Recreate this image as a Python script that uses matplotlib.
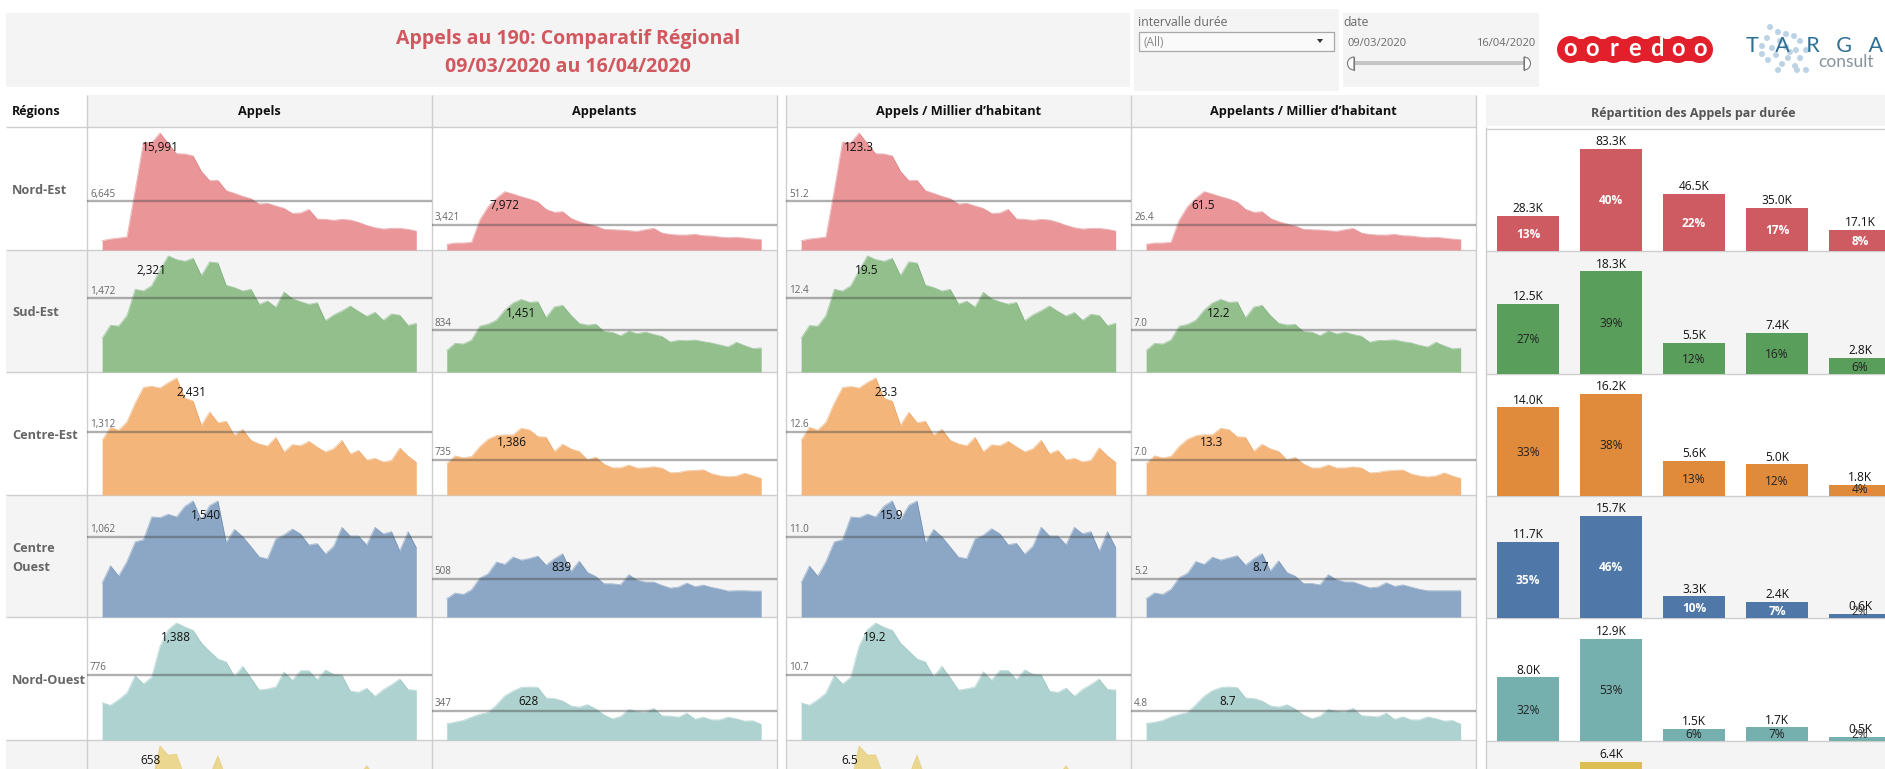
import matplotlib
matplotlib.use("Agg")
import matplotlib.pyplot as plt
from matplotlib.patches import Rectangle, Circle, Polygon, Wedge

nan = float("nan")
W, H = 1885, 769
plt.rcParams["font.family"] = ["Open Sans", "DejaVu Sans"]

# ---------- values (39 days, 09/03/2020 to 16/04/2020) ----------
appels_nord_est = [1276,1503,1640,1777,8155,14761,14670,15991,14534,13167,13121,12848,10752,9476,9522,8110,7745,7335,7016,6287,6378,6014,5695,5012,5057,5558,4237,4192,4055,4192,4100,3781,3371,3053,2870,2961,2961,2825,2597]
appels_sud_est = [674,934,920,1127,1654,1621,1728,2041,2321,2248,2214,2274,1928,2201,2181,1734,1688,1621,1654,1354,1421,1294,1601,1467,1407,1354,1387,1027,1141,1221,1321,1214,1114,1194,1034,1161,1134,934,974]
appels_centre_est = [1136,1406,1344,1517,1912,2237,2258,2223,2334,2431,2015,1953,1448,1725,1503,1531,1240,1364,1136,1060,1018,1198,893,1046,1025,1115,997,893,963,1136,852,928,727,762,686,720,977,810,679]
appels_centre_ouest = [451,681,544,735,996,1027,1328,1319,1363,1328,1469,1540,1288,1478,1540,991,1164,1066,934,797,770,1035,1089,1168,1102,956,974,836,938,1190,1075,1075,956,1190,1102,1133,876,1133,920]
appels_nord_ouest = [443,411,478,558,763,664,747,1111,1309,1388,1340,1301,1151,1052,961,925,755,874,735,593,605,629,807,708,822,822,716,830,779,771,581,565,613,518,597,656,724,597,589]
# Last row: only the points above the bottom edge of the picture can be read.
appels_ligne6 = [nan,nan,nan,nan,nan,nan,443,658,607,612,483,nan,nan,487,603,480,nan,nan,nan,nan,nan,nan,nan,nan,nan,nan,nan,nan,nan,nan,nan,483,547,490,nan,nan,nan,nan,nan]

appelants_nord_est = [775,957,957,1048,4100,5923,7062,7972,7654,7290,6971,6561,5558,5148,5239,4328,3873,3554,3280,2825,2779,2734,2642,2551,2779,2961,2324,2141,2050,2050,2141,1959,1914,1777,1686,1731,1640,1503,1412]
appelants_sud_est = [429,574,561,640,917,957,1036,1234,1379,1451,1393,1406,1089,1300,1333,1135,970,937,957,812,792,726,818,766,799,752,713,601,634,627,640,607,581,541,502,594,528,469,482]
appelants_centre_est = [649,814,773,800,1007,1159,1235,1249,1249,1386,1352,1214,1201,904,1056,959,904,731,787,642,566,566,621,559,566,587,559,462,469,504,511,524,442,400,380,393,455,400,345]
appelants_centre_ouest = [243,318,300,362,517,574,729,698,795,755,777,808,689,773,839,605,742,592,539,442,442,428,561,490,464,464,420,384,397,450,402,424,393,371,344,349,349,344,344]
appelants_nord_ouest = [192,212,232,271,306,326,416,522,581,624,628,624,498,491,463,404,389,420,369,298,251,279,361,338,330,377,287,283,271,318,247,271,239,239,271,251,224,228,184]

appels_hab_nord_est = [9.8,11.6,12.6,13.7,62.9,113.8,113.1,123.3,112.1,101.5,101.2,99.1,82.9,73.1,73.4,62.5,59.7,56.6,54.1,48.5,49.2,46.4,43.9,38.6,39.0,42.9,32.7,32.3,31.3,32.3,31.6,29.2,26.0,23.5,22.1,22.8,22.8,21.8,20.0]
appels_hab_sud_est = [5.7,7.8,7.7,9.5,13.9,13.6,14.5,17.1,19.5,18.9,18.6,19.1,16.2,18.5,18.3,14.6,14.2,13.6,13.9,11.4,11.9,10.9,13.4,12.3,11.8,11.4,11.7,8.6,9.6,10.3,11.1,10.2,9.4,10.0,8.7,9.7,9.5,7.8,8.2]
appels_hab_centre_est = [10.9,13.5,12.9,14.5,18.3,21.4,21.6,21.3,22.4,23.3,19.3,18.7,13.9,16.5,14.4,14.7,11.9,13.1,10.9,10.2,9.8,11.5,8.6,10.0,9.8,10.7,9.6,8.6,9.2,10.9,8.2,8.9,7.0,7.3,6.6,6.9,9.4,7.8,6.5]
appels_hab_centre_ouest = [4.7,7.0,5.6,7.6,10.3,10.6,13.7,13.6,14.1,13.7,15.2,15.9,13.3,15.3,15.9,10.2,12.0,11.0,9.6,8.2,8.0,10.7,11.2,12.1,11.4,9.9,10.1,8.6,9.7,12.3,11.1,11.1,9.9,12.3,11.4,11.7,9.0,11.7,9.5]
appels_hab_nord_ouest = [6.1,5.7,6.6,7.7,10.6,9.2,10.3,15.4,18.1,19.2,18.5,18.0,15.9,14.6,13.3,12.8,10.4,12.1,10.2,8.2,8.4,8.7,11.2,9.8,11.4,11.4,9.9,11.5,10.8,10.7,8.0,7.8,8.5,7.2,8.3,9.1,10.0,8.3,8.2]
appels_hab_ligne6 = [nan,nan,nan,nan,nan,nan,4.4,6.5,6.0,6.0,4.8,nan,nan,4.8,6.0,4.7,nan,nan,nan,nan,nan,nan,nan,nan,nan,nan,nan,nan,nan,nan,nan,4.8,5.4,4.8,nan,nan,nan,nan,nan]

appelants_hab_nord_est = [6.0,7.4,7.4,8.1,31.6,45.7,54.5,61.5,59.0,56.2,53.8,50.6,42.9,39.7,40.4,33.4,29.9,27.4,25.3,21.8,21.4,21.1,20.4,19.7,21.4,22.8,17.9,16.5,15.8,15.8,16.5,15.1,14.8,13.7,13.0,13.4,12.6,11.6,10.9]
appelants_hab_sud_est = [3.6,4.8,4.7,5.4,7.7,8.0,8.7,10.4,11.6,12.2,11.7,11.8,9.1,10.9,11.2,9.5,8.2,7.9,8.0,6.8,6.7,6.1,6.9,6.4,6.7,6.3,6.0,5.0,5.3,5.3,5.4,5.1,4.9,4.5,4.2,5.0,4.4,3.9,4.0]
appelants_hab_centre_est = [6.2,7.8,7.4,7.7,9.7,11.1,11.8,12.0,12.0,13.3,13.0,11.6,11.5,8.7,10.1,9.2,8.7,7.0,7.5,6.2,5.4,5.4,6.0,5.4,5.4,5.6,5.4,4.4,4.5,4.8,4.9,5.0,4.2,3.8,3.6,3.8,4.4,3.8,3.3]
appelants_hab_centre_ouest = [2.5,3.3,3.1,3.8,5.4,6.0,7.6,7.2,8.2,7.8,8.1,8.4,7.1,8.0,8.7,6.3,7.7,6.1,5.6,4.6,4.6,4.4,5.8,5.1,4.8,4.8,4.4,4.0,4.1,4.7,4.2,4.4,4.1,3.8,3.6,3.6,3.6,3.6,3.6]
appelants_hab_nord_ouest = [2.7,2.9,3.2,3.8,4.2,4.5,5.8,7.2,8.1,8.6,8.7,8.6,6.9,6.8,6.4,5.6,5.4,5.8,5.1,4.1,3.5,3.9,5.0,4.7,4.6,5.2,4.0,3.9,3.8,4.4,3.4,3.8,3.3,3.3,3.8,3.5,3.1,3.2,2.6]

regions = ["Nord-Est", "Sud-Est", "Centre-Est", "Centre\nOuest", "Nord-Ouest"]
moy_appels = [6645, 1472, 1312, 1062, 776]
moy_appelants = [3421, 834, 735, 508, 347]
moy_appels_hab = [51.2, 12.4, 12.6, 11.0, 10.7]
moy_appelants_hab = [26.4, 7.0, 7.0, 5.2, 4.8]
max_appels = [15991, 2321, 2431, 1540, 1388, 658]
max_appelants = [7972, 1451, 1386, 839, 628]
max_appels_hab = [123.3, 19.5, 23.3, 15.9, 19.2, 6.5]
max_appelants_hab = [61.5, 12.2, 13.3, 8.7, 8.7]

duree_nord_est = [28.3, 83.3, 46.5, 35.0, 17.1]
duree_sud_est = [12.5, 18.3, 5.5, 7.4, 2.8]
duree_centre_est = [14.0, 16.2, 5.6, 5.0, 1.8]
duree_centre_ouest = [11.7, 15.7, 3.3, 2.4, 0.6]
duree_nord_ouest = [8.0, 12.9, 1.5, 1.7, 0.5]
duree_ligne6 = [nan, 6.4, nan, nan, nan]
part_nord_est = [13, 40, 22, 17, 8]
part_sud_est = [27, 39, 12, 16, 6]
part_centre_est = [33, 38, 13, 12, 4]
part_centre_ouest = [35, 46, 10, 7, 2]
part_nord_ouest = [32, 53, 6, 7, 2]

# ---------- styles and positions ----------
jours = list(range(39))
col_area = ["#E98F92", "#8DBC87", "#F4B173", "#86A3C3", "#A9D0CD", "#EBD68A"]
col_bar = ["#CF5B62", "#5A9E5B", "#E08B3B", "#4F78A8", "#75AFAE", "#DCBE55"]
pct_col = ["white", "#222222", "#222222", "white", "#222222"]
GREY = "#F4F4F4"
LINE = "#CECECE"
row_edges = [127, 250, 372, 495, 617, 740, 863]
bar_edges = [129, 251, 374, 496, 618, 741, 864]
col_edges = [(87, 431.6), (431.6, 776.5), (786, 1131), (1131, 1476)]
# day index under each maximum label
jour_appels = [7, 6, 10.8, 12.6, 8.9, 5.8]
jour_appelants = [7, 9, 7.9, 13.8, 9.9]
jour_appels_hab = [7, 7.9, 10.3, 10.9, 8.9, 5.9]
jour_appelants_hab = [6.9, 8.8, 7.9, 13.8, 9.9]

fig = plt.figure(figsize=(W / 100, H / 100), dpi=100, facecolor="white")
bg = fig.add_axes([0, 0, 1, 1], zorder=0)
bg.set_xlim(0, W)
bg.set_ylim(H, 0)
bg.axis("off")


def rect(x0, y0, x1, y1, color, **kw):
    bg.add_patch(Rectangle((x0, y0), x1 - x0, y1 - y0, facecolor=color, edgecolor="none", **kw))


def hline(x0, x1, y, color=LINE, lw=1.0):
    bg.plot([x0, x1], [y, y], color=color, lw=lw, solid_capstyle="butt")


def vline(x, y0, y1, color=LINE, lw=1.0):
    bg.plot([x, x], [y0, y1], color=color, lw=lw, solid_capstyle="butt")


# header blocks
rect(6, 13, 1130, 87, GREY)
rect(1134, 9, 1339, 91, GREY)
rect(1343, 13, 1539, 87, GREY)
bg.text(568, 39, "Appels au 190: Comparatif Régional", color="#D1585F", fontsize=14, fontweight="bold", ha="center", va="center")
bg.text(568, 67, "09/03/2020 au 16/04/2020", color="#D1585F", fontsize=14, fontweight="bold", ha="center", va="center")

# filters
txt_f = "#6A6A6A"
bg.text(1138.5, 23, "intervalle durée", color=txt_f, fontsize=8.8, ha="left", va="center")
rect(1139, 32, 1334, 51, "#FAFAFA")
bg.add_patch(Rectangle((1139, 32), 195, 19, facecolor="none", edgecolor="#A8A8A8", lw=0.9))
bg.text(1143, 42, "(All)", color="#8A8A8A", fontsize=8.6, ha="left", va="center")
bg.add_patch(Polygon([(1317, 39), (1323, 39), (1320, 43)], facecolor="#333333", edgecolor="none"))
bg.text(1343, 23, "date", color=txt_f, fontsize=8.8, ha="left", va="center")
bg.text(1347, 44, "09/03/2020", color=txt_f, fontsize=8, ha="left", va="center")
bg.text(1535, 44, "16/04/2020", color=txt_f, fontsize=8, ha="right", va="center")
rect(1352, 61, 1525, 65, "#C6C6C6")
bg.add_patch(Wedge((1354, 63.5), 6.5, 90, 270, facecolor="white", edgecolor="#777777", lw=0.8))
bg.plot([1354, 1354], [57, 70], color="#777777", lw=0.8)
bg.add_patch(Wedge((1524, 63.5), 6.5, 270, 90, facecolor="white", edgecolor="#777777", lw=0.8))
bg.plot([1524, 1524], [57, 70], color="#777777", lw=0.8)

# ooredoo logo
red = "#E2202C"
rect(1570, 38.5, 1699, 60.5, red)
for i, ch in enumerate("ooredoo"):
    cx = 1570.5 + 21.5 * i
    bg.add_patch(Circle((cx, 49.5), 13.5, facecolor=red, edgecolor="none"))
    bg.text(cx, 48, ch, color="white", fontsize=17, fontweight="bold", ha="center", va="center", family="Lato")
# TARGA consult logo
dots = [(1770, 27), (1778, 32), (1786, 34), (1794, 36), (1767, 38), (1780, 41), (1800, 41), (1762, 46), (1772, 48),
        (1786, 47), (1796, 50), (1806, 50), (1776, 55), (1788, 58), (1800, 58), (1768, 60), (1782, 64), (1795, 66),
        (1778, 70), (1797, 70), (1806, 70), (1762, 54), (1790, 52)]
for x, y in dots:
    bg.add_patch(Circle((x, y), 3.0, facecolor="#BCD3E6", edgecolor="none", zorder=1))
bg.text(1814.5, 46, "T   A   R   G   A", color="#2F6F92", fontsize=15.5, fontweight="normal", ha="center", va="center", family="Lato", zorder=4)
bg.text(1846, 62, "consult", color="#87949C", fontsize=12.5, fontweight="normal", ha="center", va="center", family="Lato", zorder=4)

# table frame
rect(87, 95, 776.5, 127, GREY)
rect(786, 95, 1476, 127, GREY)
rect(1486, 95, W, 126, GREY)
for r in (1, 3, 5):
    rect(6, row_edges[r], 776.5, min(row_edges[r + 1], H), GREY)
    rect(786, row_edges[r], 1476, min(row_edges[r + 1], H), GREY)
    rect(1486, bar_edges[r], W, min(bar_edges[r + 1], H), GREY)
for y in row_edges[:-1]:
    hline(6, 776.5, y)
    hline(786, 1476, y)
for y in bar_edges[:-1]:
    hline(1486, W, y)
for x in (87, 431.6, 776.5, 786, 1131, 1476):
    vline(x, 95, H)
vline(1486, 127, H)

bg.text(12, 111, "Régions", color="#111111", fontsize=9, fontweight="bold", ha="left", va="center")
titres = ["Appels", "Appelants", "Appels / Millier d’habitant", "Appelants / Millier d’habitant"]
for (x0, x1), t in zip(col_edges, titres):
    bg.text((x0 + x1) / 2, 112, t, color="#111111", fontsize=9.2, fontweight="bold", ha="center", va="center")
bg.text(1693, 113, "Répartition des Appels par durée", color="#555555", fontsize=9, fontweight="bold", ha="center", va="center")
for r, name in enumerate(regions):
    bg.text(12, (row_edges[r] + row_edges[r + 1]) / 2 + 2, name, color="#666666", fontsize=9.2, fontweight="bold",
            ha="left", va="center", linespacing=1.65)


def px_axes(x0, y0, x1, y1):
    ax = fig.add_axes([x0 / W, 1 - y1 / H, (x1 - x0) / W, (y1 - y0) / H], zorder=2)
    ax.patch.set_alpha(0)
    ax.axis("off")
    return ax


def area_cell(col, r, serie, moyenne, maxi, echelle, jour_label, fmt):
    x0, x1 = col_edges[col]
    ax = px_axes(x0, row_edges[r], x1, row_edges[r + 1])
    ax.set_xlim(-1.83, 38 + 1.85)
    ax.set_ylim(0, echelle * 1.051)
    mask = [v == v for v in serie]
    ax.fill_between(jours, serie, 0, where=mask, color=col_area[r], alpha=0.95, lw=0, interpolate=False)
    ax.plot(jours, serie, color=col_bar[r], lw=0.6, alpha=0.45)
    if moyenne is not None:
        ax.plot([-1.83, 39.85], [moyenne, moyenne], color="#444444", alpha=0.42, lw=1.7, solid_capstyle="butt")
        ax.annotate(fmt(moyenne), xy=(-1.83, moyenne), xytext=(2.2, 5.2), textcoords="offset points", color="#666666",
                    fontsize=7.1, ha="left", va="center")
    ax.annotate(fmt(maxi), xy=(jour_label, maxi), xytext=(0, -10.2), textcoords="offset points", color="#111111",
                fontsize=8.5, ha="center", va="center", annotation_clip=False)


fi = lambda v: f"{v:,.0f}"
fd = lambda v: f"{v:.1f}"
s_appels = [appels_nord_est, appels_sud_est, appels_centre_est, appels_centre_ouest, appels_nord_ouest, appels_ligne6]
s_appelants = [appelants_nord_est, appelants_sud_est, appelants_centre_est, appelants_centre_ouest, appelants_nord_ouest]
s_appels_hab = [appels_hab_nord_est, appels_hab_sud_est, appels_hab_centre_est, appels_hab_centre_ouest, appels_hab_nord_ouest, appels_hab_ligne6]
s_appelants_hab = [appelants_hab_nord_est, appelants_hab_sud_est, appelants_hab_centre_est, appelants_hab_centre_ouest, appelants_hab_nord_ouest]

for r in range(6):
    m1 = moy_appels[r] if r < 5 else None
    m3 = moy_appels_hab[r] if r < 5 else None
    area_cell(0, r, s_appels[r], m1, max_appels[r], max_appels[r], jour_appels[r], fi)
    area_cell(2, r, s_appels_hab[r], m3, max_appels_hab[r], max_appels_hab[r], jour_appels_hab[r], fd)
    if r < 5:
        area_cell(1, r, s_appelants[r], moy_appelants[r], max_appelants[r], max_appels[r], jour_appelants[r], fi)
        area_cell(3, r, s_appelants_hab[r], moy_appelants_hab[r], max_appelants_hab[r], max_appels_hab[r], jour_appelants_hab[r], fd)

# duration bars
s_duree = [duree_nord_est, duree_sud_est, duree_centre_est, duree_centre_ouest, duree_nord_ouest, duree_ligne6]
s_part = [part_nord_est, part_sud_est, part_centre_est, part_centre_ouest, part_nord_ouest]
cats = list(range(5))
for r in range(6):
    y0, y1 = bar_edges[r], bar_edges[r + 1]
    hpx = y1 - y0
    ax = px_axes(1486, y0, W, y1)
    ax.set_xlim(-42 / 83, 357 / 83)
    top = max(v for v in s_duree[r] if v == v)
    ymax = top * hpx / 102.5
    ax.set_ylim(0, ymax)
    ax.bar(cats, s_duree[r], width=62 / 83, color=col_bar[r], lw=0)
    for i, v in enumerate(s_duree[r]):
        if v != v:
            continue
        ax.annotate(f"{v:.1f}K", xy=(i, v), xytext=(0, 5.3), textcoords="offset points", color="#111111", fontsize=8.6,
                    ha="center", va="center", annotation_clip=False)
        if r < 5:
            p = s_part[r][i]
            ypos = max(v / 2, 7 * ymax / hpx)
            c = pct_col[r]
            if p <= 2:
                c = "#333333"
            ax.annotate(f"{p}%", xy=(i, ypos), xytext=(0, -0.7), textcoords="offset points", color=c, fontsize=8.6,
                        ha="center", va="center", fontweight="bold" if c == "white" else "normal")

fig.savefig("out.png", dpi=100)
